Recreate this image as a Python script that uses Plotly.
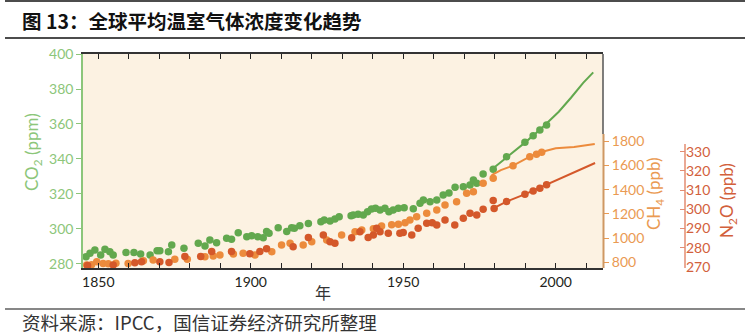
import plotly.graph_objects as go

# ---------------- data ----------------
co2_pt_years = [1846.0, 1847.3, 1848.9, 1850.8, 1852.2, 1853.8, 1854.9, 1859.1, 1861.7, 1863.9,
                1867.0, 1869.3, 1870.2, 1873.0, 1874.1, 1878.1, 1882.8, 1885.0, 1886.6, 1888.8,
                1892.1, 1893.7, 1895.9, 1898.7, 1900.3, 1902.3, 1904.1, 1905.2, 1906.0, 1909.0,
                1911.8, 1913.4, 1914.3, 1916.1, 1918.9, 1923.0, 1924.1, 1926.0, 1927.6, 1929.0,
                1932.9, 1933.6, 1935.2, 1936.9, 1938.3, 1939.6, 1940.9, 1942.4, 1944.0, 1945.3,
                1946.7, 1948.4, 1950.3, 1953.3, 1955.5, 1956.6, 1958.8, 1961.0, 1963.1, 1965.0,
                1967.0, 1969.7, 1971.9, 1973.0, 1974.1, 1976.2, 1979.5, 1983.9, 1989.9, 1992.6,
                1994.8, 1997.0]
co2_pt_values = [284.2, 286.1, 288.0, 285.1, 288.4, 287.0, 285.1, 286.5, 286.5, 285.7,
                 285.1, 287.6, 287.6, 287.0, 290.9, 289.0, 291.8, 290.3, 293.7, 292.2,
                 294.7, 294.1, 297.9, 295.6, 296.2, 295.6, 295.0, 298.5, 297.5, 300.7,
                 298.5, 300.7, 300.4, 301.9, 303.2, 304.2, 305.1, 304.6, 305.7, 307.0,
                 307.6, 308.0, 308.4, 308.0, 309.9, 311.4, 311.8, 310.9, 311.8, 309.9,
                 310.9, 311.8, 312.2, 311.5, 314.7, 316.6, 315.6, 316.6, 319.4, 320.5,
                 323.8, 324.2, 325.1, 328.0, 326.1, 331.4, 334.1, 341.3, 349.5, 353.3,
                 356.6, 359.4]
co2_line_years = [1979, 1984, 1990, 1995, 1998, 2001, 2005, 2009, 2012.3]
co2_line_values = [334.0, 341.0, 349.5, 357.0, 362.3, 367.0, 375.0, 383.5, 389.5]

ch4_pt_years = [1846.2, 1847.8, 1849.5, 1851.6, 1853.3, 1855.8, 1859.8, 1864.8, 1868.0, 1875.1,
                1879.2, 1885.0, 1887.7, 1889.9, 1894.3, 1897.5, 1901.4, 1906.9, 1910.1, 1912.9,
                1917.2, 1920.0, 1924.9, 1929.8, 1934.2, 1936.4, 1940.2, 1942.9, 1946.2, 1948.4,
                1950.6, 1952.2, 1954.4, 1957.7, 1961.0, 1963.7, 1967.5, 1970.8, 1973.0, 1976.2,
                1979.5, 1986.0, 1991.5, 1993.7, 1995.4]
ch4_pt_values = [780, 782, 807, 793, 790, 795, 793, 815, 821, 826,
                 826, 848, 853, 862, 870, 876, 862, 889, 944, 958,
                 944, 971, 985, 1026, 1053, 1067, 1078, 1100, 1110, 1114,
                 1128, 1150, 1177, 1205, 1232, 1273, 1300, 1370, 1383, 1452,
                 1493, 1597, 1671, 1691, 1707]
ch4_line_years = [1979, 1982, 1986, 1991.5, 1995, 2000, 2006, 2012.8]
ch4_line_values = [1520, 1561, 1597, 1671, 1707, 1740, 1750, 1775]

n2o_pt_years = [1846.5, 1854.9, 1862.0, 1864.2, 1870.2, 1873.2, 1878.4, 1883.6, 1887.2, 1893.7,
                1899.7, 1903.0, 1905.2, 1913.9, 1918.9, 1923.8, 1926.0, 1927.6, 1933.1, 1935.8,
                1938.5, 1940.2, 1941.3, 1942.4, 1945.1, 1948.9, 1950.0, 1952.8, 1954.9, 1957.7,
                1959.5, 1961.0, 1963.7, 1966.9, 1969.7, 1971.9, 1974.1, 1976.2, 1979.5, 1979.8,
                1983.9, 1989.9, 1992.6, 1994.8, 1997.0]
n2o_pt_values = [270.8, 271.0, 272.2, 272.8, 272.8, 272.3, 275.5, 275.5, 278.1, 278.1,
                 276.9, 278.1, 279.5, 280.6, 285.3, 286.7, 283.2, 282.4, 285.2, 288.3,
                 285.3, 286.7, 290.2, 288.4, 287.6, 287.6, 288.0, 286.7, 290.2, 292.8,
                 293.0, 291.9, 294.5, 291.9, 295.4, 298.0, 297.1, 300.1, 304.6, 300.5,
                 304.1, 307.9, 309.6, 311.0, 312.8]
n2o_line_years = [1979.5, 1984, 1990, 1997, 2001.4, 2007, 2012.9]
n2o_line_values = [300.5, 304.1, 307.9, 312.8, 316.3, 320.0, 324.1]

x_major_ticks = [1850, 1900, 1950, 2000]
x_minor_ticks = list(range(1850, 2011, 10))
co2_ticks = [280, 300, 320, 340, 360, 380, 400]
ch4_ticks = [800, 1000, 1200, 1400, 1600, 1800]
n2o_ticks = [270, 280, 290, 300, 310, 320, 330]

# ---------------- styling ----------------
W, H = 749, 336
L, R, T, B = 83, 700, 54, 268          # paper box in pixels
PW, PH = R - L, B - T
def px(x):
    return (x - L) / PW
def py(y):
    return (B - y) / PH

GREEN = "#62a84e"
GREEN_TXT = "#8cc67a"
ORANGE = "#ec8b3c"
ORANGE_TXT = "#ea9a52"
ORANGE_AX = "#cf9863"
RED = "#d4582a"
RED_TXT = "#d2603c"
RED_AX = "#e38d72"
BG = "#fcf2e2"
FONT = "Lato"

fig = go.Figure()
mk = dict(size=7.5, line=dict(width=0))
fig.add_trace(go.Scatter(x=ch4_line_years, y=ch4_line_values, mode="lines",
                         line=dict(color=ORANGE, width=2), xaxis="x", yaxis="y2"))
fig.add_trace(go.Scatter(x=ch4_pt_years, y=ch4_pt_values, mode="markers",
                         marker=dict(color=ORANGE, **mk), xaxis="x", yaxis="y2", cliponaxis=False))
fig.add_trace(go.Scatter(x=n2o_line_years, y=n2o_line_values, mode="lines",
                         line=dict(color=RED, width=2), xaxis="x", yaxis="y3"))
fig.add_trace(go.Scatter(x=n2o_pt_years, y=n2o_pt_values, mode="markers",
                         marker=dict(color=RED, **mk), xaxis="x", yaxis="y3", cliponaxis=False))
fig.add_trace(go.Scatter(x=co2_line_years, y=co2_line_values, mode="lines",
                         line=dict(color=GREEN, width=2), xaxis="x", yaxis="y"))
fig.add_trace(go.Scatter(x=co2_pt_years, y=co2_pt_values, mode="markers",
                         marker=dict(color=GREEN, **mk), xaxis="x", yaxis="y", cliponaxis=False))

xdom_end = px(603)
d2 = py(134)   # top of the CH4 axis line
d3 = py(144)   # top of the N2O axis line

fig.update_layout(
    width=W, height=H,
    margin=dict(l=L, r=W - R, t=T, b=H - B, pad=0),
    paper_bgcolor="white", plot_bgcolor=BG,
    showlegend=False,
    font=dict(family=FONT, size=14),
    xaxis=dict(domain=[0, xdom_end], range=[1845, 2015.5], tickvals=x_major_ticks,
               ticks="inside", ticklen=5, tickwidth=1.3, tickcolor="#222",
               minor=dict(tickvals=x_minor_ticks, ticks="inside", ticklen=5, tickwidth=1.3,
                          tickcolor="#222", showgrid=False),
               showline=True, linecolor="#333", linewidth=1.5, mirror="ticks", showgrid=False,
               zeroline=False, tickfont=dict(color="#231f20", size=14, family=FONT), anchor="y"),
    yaxis=dict(domain=[0, 1], range=[277.7, 400], tickvals=co2_ticks, ticks="outside", ticklen=5,
               tickcolor=GREEN_TXT, showline=True, linecolor=GREEN_TXT, linewidth=1.5,
               showgrid=False, zeroline=False, tickfont=dict(color=GREEN_TXT, size=14, family=FONT),
               anchor="x"),
    yaxis2=dict(overlaying="y", range=[755, 2516], tickvals=ch4_ticks, side="right", anchor="x",
                ticks="outside", ticklen=5, tickcolor=ORANGE_TXT, showline=False,
                showgrid=False, zeroline=False,
                tickfont=dict(color=ORANGE_TXT, size=14, family=FONT)),
    yaxis3=dict(overlaying="y", range=[269.5, 380.8], tickvals=n2o_ticks, side="right", anchor="free",
                position=px(685), ticks="inside", ticklen=5, tickcolor=RED_AX, showline=False,
                showgrid=False, zeroline=False,
                tickfont=dict(color=RED_TXT, size=14, family=FONT)),
)

# frame pieces, partial axis lines and page rules
shapes = [
    dict(type="line", xref="paper", yref="paper", x0=px(603), x1=px(603), y0=d2, y1=1,
         line=dict(color="#555", width=1.5)),
    dict(type="line", xref="paper", yref="paper", x0=px(603.5), x1=px(603.5), y0=0, y1=d2,
         line=dict(color=ORANGE_AX, width=2)),
    dict(type="line", xref="paper", yref="paper", x0=px(685), x1=px(685), y0=0, y1=d3,
         line=dict(color=RED_AX, width=1.5)),
    dict(type="line", xref="paper", yref="paper", x0=px(5), x1=px(745), y0=py(1), y1=py(1),
         line=dict(color="#111", width=1.5)),
    dict(type="line", xref="paper", yref="paper", x0=px(5), x1=px(745), y0=py(38), y1=py(38),
         line=dict(color="#111", width=1.5)),
    dict(type="line", xref="paper", yref="paper", x0=px(5), x1=px(745), y0=py(309), y1=py(309),
         line=dict(color="#111", width=1.2)),
]
fig.update_layout(shapes=shapes)

ann = [
    dict(text="<b>图 13：全球平均温室气体浓度变化趋势</b>", x=px(20), y=py(21), xanchor="left",
         yanchor="middle", font=dict(family="Noto Sans CJK SC", size=19.5, color="#111")),
    dict(text="资料来源：IPCC，国信证券经济研究所整理", x=px(20), y=py(322), xanchor="left",
         yanchor="middle", font=dict(family="Noto Sans CJK SC", size=18.5, color="#333")),
    dict(text="年", x=px(323), y=py(292), xanchor="center", yanchor="middle",
         font=dict(family="Noto Sans CJK SC", size=16, color="#333")),
    dict(text="CO<sub>2</sub> (ppm)", x=px(33), y=py(152), textangle=-90, xanchor="center",
         yanchor="middle", font=dict(family=FONT, size=17, color=GREEN_TXT)),
    dict(text="CH<sub>4</sub> (ppb)", x=px(655), y=py(194), textangle=-90, xanchor="center",
         yanchor="middle", font=dict(family=FONT, size=17, color=ORANGE_TXT)),
    dict(text="N<sub>2</sub>O (ppb)", x=px(728), y=py(201), textangle=-90, xanchor="center",
         yanchor="middle", font=dict(family=FONT, size=17, color=RED_TXT)),
]
for a in ann:
    a.update(xref="paper", yref="paper", showarrow=False)
fig.update_layout(annotations=ann)

fig.write_html("out.html")
